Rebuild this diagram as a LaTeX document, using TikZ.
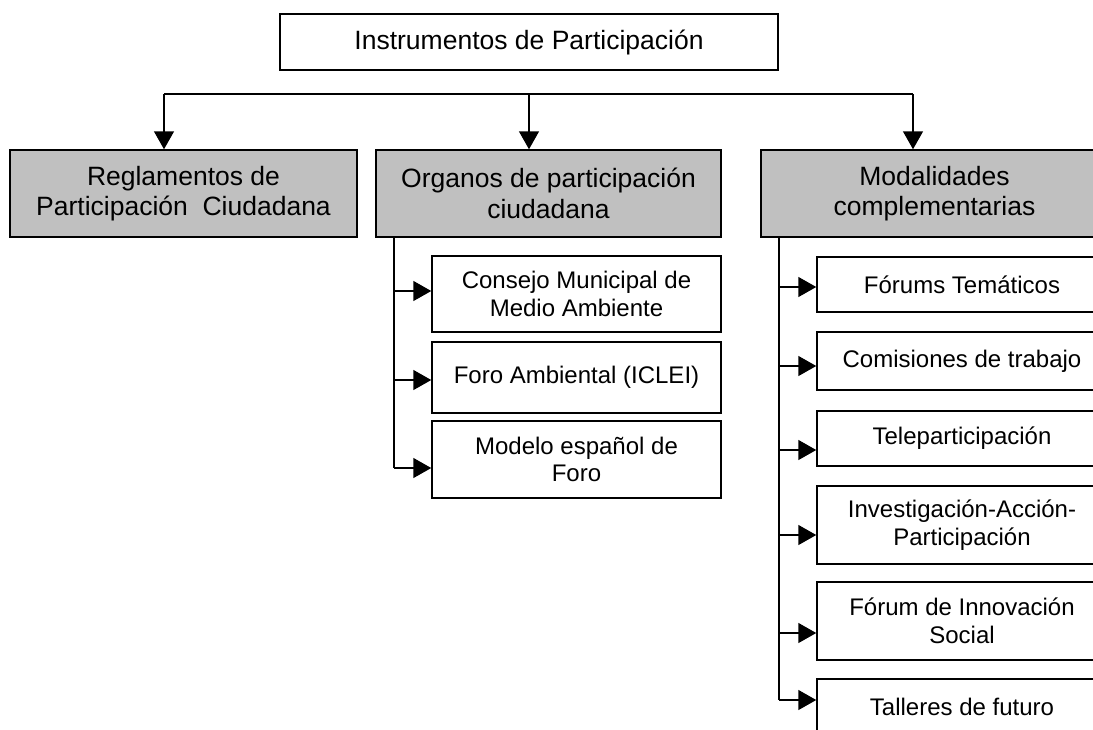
\documentclass[tikz,border=0pt]{standalone}
\usepackage{fontspec}
\setmainfont{Liberation Sans}
\usetikzlibrary{arrows.meta}
\begin{document}
\begin{tikzpicture}[x=1pt,y=-1pt,
  box/.style={draw=black,line width=1.5pt,rectangle,align=center,inner sep=0pt},
  big/.style={box,font=\fontsize{26.5}{30.5}\selectfont},
  grey/.style={big,fill=boxgrey},
  small/.style={box,fill=white,font=\fontsize{24}{27.6}\selectfont,minimum width=289pt},
  conn/.style={line width=1.5pt,draw=black},
  arr/.style={conn,-{Triangle[length=18pt,width=20pt]}}]
\definecolor{boxgrey}{HTML}{C0C0C0}
\useasboundingbox (0,0) rectangle (1093,729);
\clip (0,0) rectangle (1093,729);
% top
\node[big,minimum width=498pt,minimum height=56pt] (top) at (529,42) {Instrumentos de Participación};
% second row
\node[grey,minimum width=347pt,minimum height=87pt] (reg) at (183.5,193.5) {Reglamentos de\\Participación\ \ Ciudadana};
\node[grey,minimum width=345pt,minimum height=87pt] (org) at (548.5,193.5) {Organos de participación\\ciudadana};
\node[grey,minimum width=347pt,minimum height=87pt] (mod) at (934.5,193.5) {Modalidades\\complementarias};
% bus
\coordinate (b1) at (164,94);
\coordinate (b2) at (529,94);
\coordinate (b3) at (913,94);
\draw[conn] (b1) -- (b3);
\draw[arr] (b1) -- (b1 |- reg.north);
\draw[arr] (b2) -- (b2 |- org.north);
\draw[arr] (b3) -- (b3 |- mod.north);
% organos children
\node[small,minimum height=76pt] (c1) at (576.5,294) {Consejo Municipal de\\Medio Ambiente};
\node[small,minimum height=71pt] (c2) at (576.5,377.5) {Foro Ambiental (ICLEI)};
\node[small,minimum height=77pt] (c3) at (576.5,459.5) {Modelo español de\\Foro};
\coordinate (ot) at (394,237);
\coordinate (o1) at (394,291);
\coordinate (o2) at (394,380);
\coordinate (o3) at (394,468);
\draw[conn] (ot) -- (o3);
\draw[arr] (o1) -- (o1 -| c1.west);
\draw[arr] (o2) -- (o2 -| c2.west);
\draw[arr] (o3) -- (o3 -| c3.west);
% modalidades children
\node[small,minimum width=290pt,minimum height=55pt] (m1) at (962,284.5) {Fórums Temáticos};
\node[small,minimum width=290pt,minimum height=58pt] (m2) at (962,361) {Comisiones de trabajo};
\node[small,minimum width=290pt,minimum height=55pt] (m3) at (962,438.5) {Teleparticipación};
\node[small,minimum width=290pt,minimum height=78pt] (m4) at (962,525) {Investigación-Acción-\\Participación};
\node[small,minimum width=290pt,minimum height=78pt] (m5) at (962,621) {Fórum de Innovación\\Social};
\node[small,minimum width=290pt,minimum height=55pt] (m6) at (962,706.5) {Talleres de futuro};
\coordinate (mt) at (779,237);
\coordinate (p1) at (779,287);
\coordinate (p2) at (779,366);
\coordinate (p3) at (779,450);
\coordinate (p4) at (779,535);
\coordinate (p5) at (779,633);
\coordinate (p6) at (779,700);
\draw[conn] (mt) -- (p6);
\draw[arr] (p1) -- (p1 -| m1.west);
\draw[arr] (p2) -- (p2 -| m2.west);
\draw[arr] (p3) -- (p3 -| m3.west);
\draw[arr] (p4) -- (p4 -| m4.west);
\draw[arr] (p5) -- (p5 -| m5.west);
\draw[arr] (p6) -- (p6 -| m6.west);
\end{tikzpicture}
\end{document}
